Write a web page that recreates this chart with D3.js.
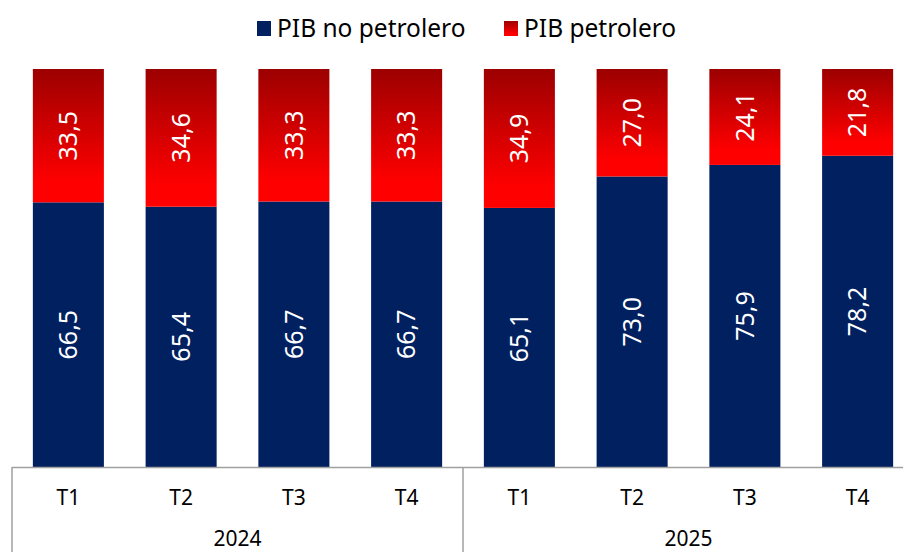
<!DOCTYPE html>
<html>
<head>
<meta charset="utf-8">
<script src="https://cdn.jsdelivr.net/npm/d3@7"></script>
<style>
  html, body { margin: 0; padding: 0; background: #fff; }
  svg { display: block; font-family: "Noto Sans", "Open Sans", sans-serif; }
</style>
</head>
<body>
<svg id="chart" width="903" height="552"></svg>
<script>
const quarters = ["T1", "T2", "T3", "T4", "T1", "T2", "T3", "T4"];
const years = ["2024", "2025"];
const noPetrolero = [66.5, 65.4, 66.7, 66.7, 65.1, 73.0, 75.9, 78.2];
const petrolero = [33.5, 34.6, 33.3, 33.3, 34.9, 27.0, 24.1, 21.8];
const seriesNames = ["PIB no petrolero", "PIB petrolero"];

(function () {
const W = 903, H = 552;
const plotLeft = 12, plotRight = 914, plotTop = 69, base = 467;
const svg = d3.select("#chart");

const defs = svg.append("defs");
const grad = defs.append("linearGradient")
  .attr("id", "redGrad").attr("x1", 0).attr("y1", 0).attr("x2", 0).attr("y2", 1);
grad.append("stop").attr("offset", "0%").attr("stop-color", "#9c0000");
grad.append("stop").attr("offset", "85%").attr("stop-color", "#ff0000");
grad.append("stop").attr("offset", "100%").attr("stop-color", "#ff0000");

const idx = d3.range(quarters.length);
const x = d3.scaleBand().domain(idx).range([plotLeft, plotRight]).paddingInner(0.37).paddingOuter(0.185);
const y = d3.scaleLinear().domain([0, 100]).range([base, plotTop]);

const data = idx.map(i => ({ i, a: noPetrolero[i], b: petrolero[i] }));
const stack = d3.stack().keys(["a", "b"])(data);
const fills = ["#002060", "url(#redGrad)"];

stack.forEach((layer, k) => {
  const g = svg.append("g");
  g.selectAll("rect").data(layer).join("rect")
    .attr("x", d => x(d.data.i))
    .attr("width", x.bandwidth())
    .attr("y", d => y(d[1]))
    .attr("height", d => y(d[0]) - y(d[1]))
    .attr("fill", fills[k]);
  g.selectAll("text").data(layer).join("text")
    .attr("transform", d => `translate(${x(d.data.i) + x.bandwidth() / 2},${(y(d[0]) + y(d[1])) / 2}) rotate(-90)`)
    .attr("text-anchor", "middle")
    .attr("dy", "0.35em")
    .attr("fill", "#fff")
    .attr("font-size", 25)
    .text(d => d3.format(".1f")(d[1] - d[0]).replace(".", ","));
});

const axisColor = "#a0a0a0";
svg.append("line").attr("x1", plotLeft).attr("x2", W).attr("y1", base + 0.5).attr("y2", base + 0.5)
  .attr("stroke", axisColor).attr("stroke-width", 1.5);
const dividers = [0, 4];
svg.selectAll("line.div").data(dividers).join("line").attr("class", "div")
  .attr("x1", d => x(d) - x.step() * x.paddingOuter())
  .attr("x2", d => x(d) - x.step() * x.paddingOuter())
  .attr("y1", base).attr("y2", H)
  .attr("stroke", axisColor).attr("stroke-width", 1.5);

svg.selectAll("text.q").data(idx).join("text").attr("class", "q")
  .attr("x", i => x(i) + x.bandwidth() / 2)
  .attr("y", 505)
  .attr("text-anchor", "middle")
  .attr("font-size", 21)
  .attr("fill", "#000")
  .text(i => quarters[i]);

svg.selectAll("text.yr").data(years).join("text").attr("class", "yr")
  .attr("x", (d, j) => (x(j * 4) + x(j * 4 + 3) + x.bandwidth()) / 2)
  .attr("y", 546)
  .attr("text-anchor", "middle")
  .attr("font-size", 21)
  .attr("fill", "#000")
  .text(d => d);

const legend = svg.append("g");
const legX = [257, 504];
seriesNames.forEach((name, k) => {
  legend.append("rect").attr("x", legX[k]).attr("y", 21).attr("width", 14).attr("height", 15)
    .attr("fill", fills[k]);
  legend.append("text").attr("x", legX[k] + 20).attr("y", 37)
    .attr("font-size", 24.5).attr("fill", "#000").text(name);
});
})();
</script>
</body>
</html>
